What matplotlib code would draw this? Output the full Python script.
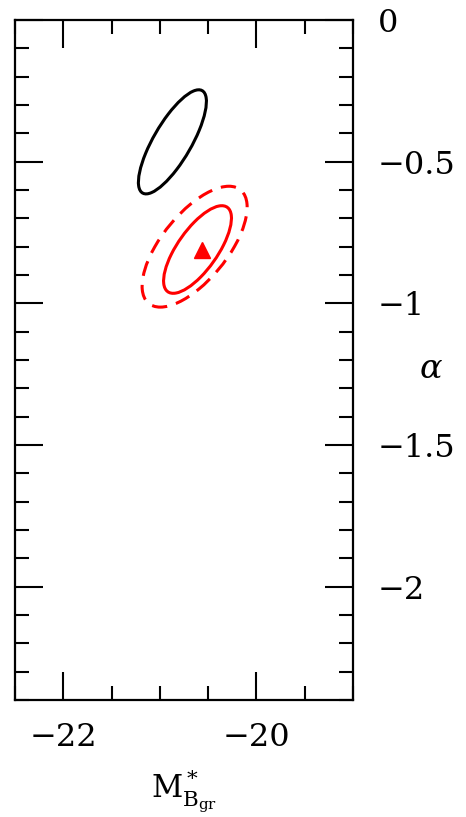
import matplotlib
matplotlib.use('Agg')
import matplotlib.pyplot as plt
from matplotlib.patches import Ellipse
from matplotlib.ticker import MultipleLocator, FuncFormatter

# confidence contours in the (M*, alpha) plane: centre, full axes, tilt
cont_m = [-20.87, -20.61, -20.64]
cont_alpha = [-0.43, -0.81, -0.80]
cont_w = [0.765, 0.74, 1.126]
cont_h = [0.214, 0.205, 0.312]
cont_ang = [24.0, 19.0, 15.6]
cont_color = ['black', 'red', 'red']
cont_ls = ['-', '-', (0, (5, 3))]

# best fit point
best_m = [-20.56]
best_alpha = [-0.81]

plt.rcParams['font.family'] = 'DejaVu Serif'
plt.rcParams['mathtext.fontset'] = 'dejavuserif'

fig = plt.figure(figsize=(4.66, 8.17), dpi=100)
ax = fig.add_axes([0.0322, 0.1432, 0.7253, 0.8323])

for m, a, w, h, ang, c, ls in zip(cont_m, cont_alpha, cont_w, cont_h, cont_ang, cont_color, cont_ls):
    e = Ellipse((m, a), w, h, angle=ang, fill=False, edgecolor=c, linestyle=ls, linewidth=2.2)
    ax.add_patch(e)

ax.plot(best_m, best_alpha, marker='^', color='red', markersize=12, linestyle='none')

ax.set_xlim(-22.5, -19.0)
ax.set_ylim(-2.4, 0.0)

ax.xaxis.set_major_locator(MultipleLocator(2))
ax.xaxis.set_minor_locator(MultipleLocator(0.5))
ax.yaxis.set_major_locator(MultipleLocator(0.5))
ax.yaxis.set_minor_locator(MultipleLocator(0.1))
fmt = FuncFormatter(lambda v, p: ('%g' % v).replace('-', '\u2212') if abs(v) > 1e-9 else '0')
ax.xaxis.set_major_formatter(fmt)
ax.yaxis.set_major_formatter(fmt)

ax.tick_params(which='both', direction='in', top=True, bottom=True, left=True, right=True,
               labelleft=False, labelright=True, width=1.5, labelsize=23)
ax.tick_params(which='major', length=20)
ax.tick_params(axis='y', which='major', pad=18)
ax.tick_params(axis='x', which='major', pad=16)
ax.tick_params(which='minor', length=10)
for s in ax.spines.values():
    s.set_linewidth(1.6)

ax.set_xlabel(r'$\mathrm{M}^*_{\mathrm{B}_{\mathrm{gr}}}$', fontsize=22)
ax.xaxis.set_label_coords(0.5, -0.1)
ax.yaxis.set_label_position('right')
ax.set_ylabel(r'$\alpha$', fontsize=24, rotation=0, va='center', ha='center')
ax.yaxis.set_label_coords(1.23, 0.487)

fig.savefig('out.png', dpi=100)
